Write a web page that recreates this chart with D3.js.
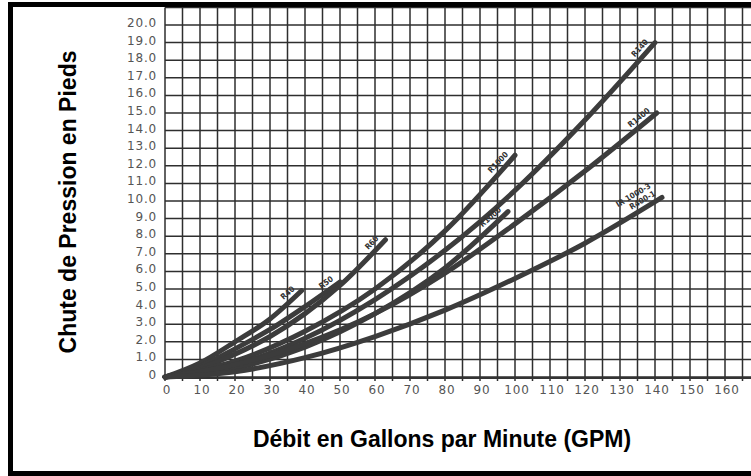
<!DOCTYPE html>
<html>
<head>
<meta charset="utf-8">
<script src="https://cdn.jsdelivr.net/npm/d3@7"></script>
<style>
  body { margin: 0; background: #fff; }
  .tick-label { font-family: 'DejaVu Sans', sans-serif; font-size: 12px; fill: #555; letter-spacing: 0.8px; }
  .axis-title { font-family: 'Liberation Sans', Arial, sans-serif; font-weight: bold; font-size: 23px; fill: #000; }
  .curve-label { font-family: 'DejaVu Sans Condensed', 'DejaVu Sans', sans-serif; font-weight: bold; font-size: 8px; fill: #333; }
</style>
</head>
<body>
<svg id="chart"></svg>
<script>
// tick values
const flowTicks = [0, 10, 20, 30, 40, 50, 60, 70, 80, 90, 100, 110, 120, 130, 140, 150, 160];
const dropTicks = [0, 1, 2, 3, 4, 5, 6, 7, 8, 9, 10, 11, 12, 13, 14, 15, 16, 17, 18, 19, 20];

// curves (flow GPM, drop ft)
const curveNames = ['R40', 'R50', 'R60', 'R1000', 'R140', 'R1000', 'R1400', 'IR 1000-3|R400-1'];
const r40Flow = [0, 10, 20, 30, 39];
const r40Drop = [0, 0.8, 2.0, 3.3, 4.9];
const r50Flow = [0, 10, 20, 30, 40, 50];
const r50Drop = [0, 0.6, 1.6, 2.7, 4.0, 5.4];
const r60Flow = [0, 10, 20, 30, 40, 50, 63];
const r60Drop = [0, 0.5, 1.3, 2.3, 3.6, 5.2, 7.8];
const r1000aFlow = [0, 20, 40, 60, 80, 100];
const r1000aDrop = [0, 0.9, 2.6, 5.0, 8.3, 12.6];
const r140Flow = [0, 20, 40, 60, 80, 100, 120, 140];
const r140Drop = [0, 0.7, 2.2, 4.4, 7.2, 10.6, 14.6, 19.0];
const r1000bFlow = [0, 20, 40, 60, 80, 98];
const r1000bDrop = [0, 0.5, 1.7, 3.6, 6.2, 9.4];
const r1400Flow = [0, 20, 40, 60, 80, 100, 120, 140.5];
const r1400Drop = [0, 0.7, 1.9, 3.6, 5.9, 8.7, 11.7, 15.0];
const ir1000Flow = [0, 20, 40, 60, 80, 100, 120, 142];
const ir1000Drop = [0, 0.3, 1.1, 2.3, 3.8, 5.6, 7.6, 10.2];

const curveFlows = [r40Flow, r50Flow, r60Flow, r1000aFlow, r140Flow, r1000bFlow, r1400Flow, ir1000Flow];
const curveDrops = [r40Drop, r50Drop, r60Drop, r1000aDrop, r140Drop, r1000bDrop, r1400Drop, ir1000Drop];

class PressureChart {
    constructor(_config) {
        this.config = {
            parentElement: _config.parentElement,
            containerWidth: 751,
            containerHeight: 476,
            plotLeft: 165,
            plotBottom: 377,
            unitX: 3.5,
            unitY: 17.6
        }
        this.initVis();
    }

    initVis() {
        let vis = this;
        const c = vis.config;

        vis.svg = d3.select(c.parentElement)
            .attr('width', c.containerWidth)
            .attr('height', c.containerHeight);

        vis.xScale = d3.scaleLinear()
            .domain([0, (c.containerWidth - c.plotLeft) / c.unitX])
            .range([c.plotLeft, c.containerWidth]);

        vis.yScale = d3.scaleLinear()
            .domain([0, 21])
            .range([c.plotBottom, c.plotBottom - 21 * c.unitY]);

        vis.renderVis();
    }

    renderVis() {
        let vis = this;
        const c = vis.config;
        const x = vis.xScale, y = vis.yScale;
        const xMax = x.domain()[1];

        // grid
        const grid = vis.svg.append('g').attr('stroke', '#2e2e2e').attr('stroke-width', 1.5);
        grid.selectAll('.vline')
            .data(d3.range(0, xMax, 5))
            .join('line')
            .attr('x1', d => x(d)).attr('x2', d => x(d))
            .attr('y1', y(0) + 4).attr('y2', y(21));
        grid.selectAll('.hline')
            .data(d3.range(0, 22, 1))
            .join('line')
            .attr('x1', x(0)).attr('x2', c.containerWidth)
            .attr('y1', d => y(d)).attr('y2', d => y(d));
        vis.svg.append('line')
            .attr('x1', x(0)).attr('x2', c.containerWidth)
            .attr('y1', y(0) + 1).attr('y2', y(0) + 1)
            .attr('stroke', '#333').attr('stroke-width', 2);

        // tick labels
        vis.svg.selectAll('.ylab')
            .data(dropTicks)
            .join('text')
            .attr('class', 'tick-label')
            .attr('x', 157)
            .attr('y', d => y(d) + 2)
            .attr('text-anchor', 'end')
            .text(d => d === 0 ? '0' : d.toFixed(1));

        vis.svg.selectAll('.xlab')
            .data(flowTicks)
            .join('text')
            .attr('class', 'tick-label')
            .attr('x', d => x(d) + 2)
            .attr('y', 394)
            .attr('text-anchor', 'middle')
            .text(d => d);

        // curves
        const line = d3.line()
            .x(d => x(d[0]))
            .y(d => y(d[1]))
            .curve(d3.curveMonotoneX);

        const series = curveNames.map((name, i) => ({
            name: name,
            points: curveFlows[i].map((f, j) => [f, curveDrops[i][j]])
        }));

        vis.svg.selectAll('.curve')
            .data(series)
            .join('path')
            .attr('class', 'curve')
            .attr('fill', 'none')
            .attr('stroke', '#3c3c3c')
            .attr('stroke-width', 5)
            .attr('stroke-linecap', 'round')
            .attr('d', d => line(d.points));

        // labels at the end of each curve
        series.forEach(s => {
            const n = s.points.length;
            const p1 = s.points[n - 2], p2 = s.points[n - 1];
            const ang = Math.atan2(y(p2[1]) - y(p1[1]), x(p2[0]) - x(p1[0])) * 180 / Math.PI;
            const lines = s.name.split('|');
            const g = vis.svg.append('g')
                .attr('transform', `translate(${x(p2[0])},${y(p2[1])}) rotate(${ang})`);
            lines.forEach((t, k) => {
                g.append('text')
                    .attr('class', 'curve-label')
                    .attr('x', -4)
                    .attr('y', -5 - (lines.length - 1 - k) * 9)
                    .attr('text-anchor', 'end')
                    .text(t);
            });
        });

        // axis titles
        vis.svg.append('text')
            .attr('class', 'axis-title')
            .attr('transform', 'translate(76,202) rotate(-90)')
            .attr('text-anchor', 'middle')
            .text('Chute de Pression en Pieds');

        vis.svg.append('text')
            .attr('class', 'axis-title')
            .attr('x', 442)
            .attr('y', 447)
            .attr('text-anchor', 'middle')
            .text('Débit en Gallons par Minute (GPM)');

        // outer frame
        vis.svg.append('rect')
            .attr('x', 10.5).attr('y', 4.5)
            .attr('width', 760).attr('height', 469)
            .attr('fill', 'none')
            .attr('stroke', '#000')
            .attr('stroke-width', 5);
    }
}

new PressureChart({ parentElement: '#chart' });
</script>
</body>
</html>
